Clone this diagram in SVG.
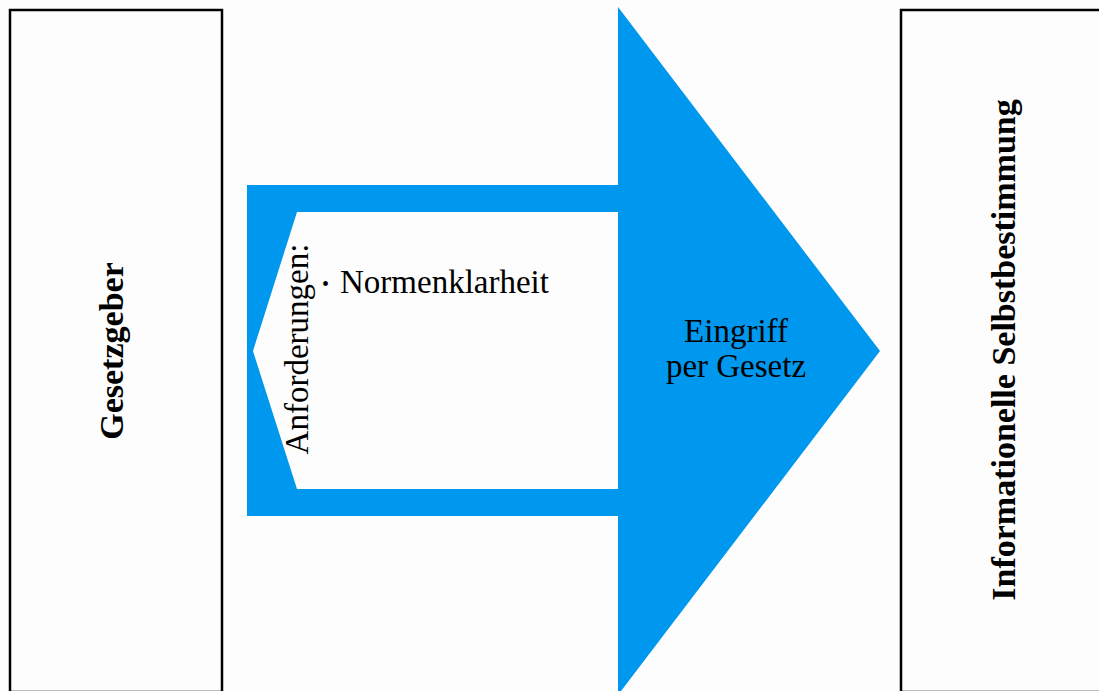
<svg xmlns="http://www.w3.org/2000/svg" width="1099" height="691" viewBox="0 0 1099 691">
<style>
.box{fill:#fdfdfd;stroke:#000;stroke-width:2.5}
.lbl{font-family:"Liberation Serif","Times New Roman",serif;fill:#000}
.b{font-weight:bold;font-size:34px}
.r{font-size:33px}
.arrow{fill:#0098ee;fill-rule:evenodd}
</style>
<rect x="0" y="0" width="1099" height="691" fill="#fdfdfd"/>
<g id="connectors">
<path class="arrow" d="M247,185 H618 V7 L880,351 L618,695 V516 H247 Z M297,212 H618 V489 H297 L253,351 Z"/>
<text class="lbl r" x="736" y="342" text-anchor="middle">Eingriff</text>
<text class="lbl r" x="736" y="377" text-anchor="middle">per Gesetz</text>
</g>
<g id="node-gesetzgeber">
<rect class="box" x="10" y="10" width="212" height="682"/>
<text class="lbl b" transform="translate(123,351) rotate(-90)" text-anchor="middle">Gesetzgeber</text>
</g>
<g id="node-selbstbestimmung">
<rect class="box" x="901" y="10" width="210" height="682"/>
<text class="lbl b" transform="translate(1015,350) rotate(-90)" text-anchor="middle">Informationelle Selbstbestimmung</text>
</g>
<g id="node-anforderungen">
<text class="lbl r" transform="translate(308,349) rotate(-90)" text-anchor="middle">Anforderungen:</text>
<text class="lbl" x="322" y="291" font-size="20">•</text>
<text class="lbl r" x="340" y="293">Normenklarheit</text>
</g>
</svg>
